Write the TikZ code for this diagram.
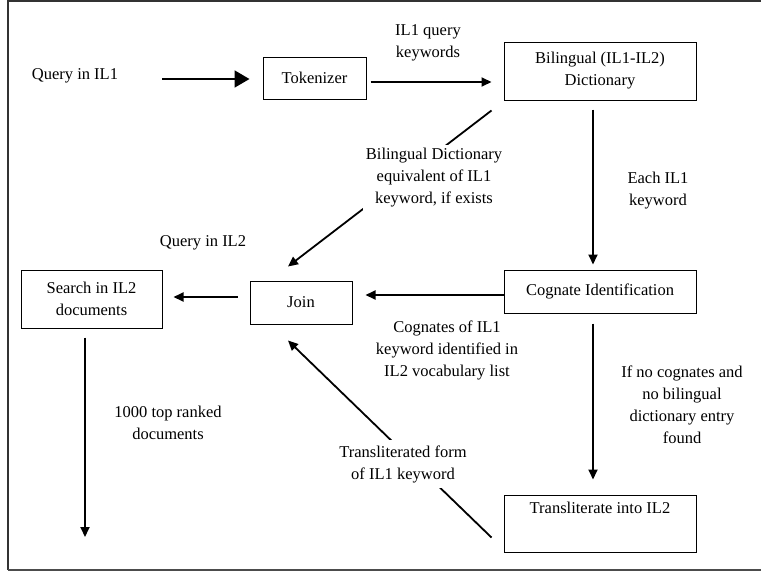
\documentclass[tikz,border=0pt]{standalone}
\usepackage{fontspec}
\setmainfont{Liberation Serif}
\usetikzlibrary{arrows.meta,calc}
\begin{document}
\begin{tikzpicture}[x=1pt,y=-1pt,
  every node/.style={font=\fontsize{16.5}{22}\selectfont, align=center, inner sep=2pt},
  box/.style={draw, line width=1pt, minimum width=#1},
  lbl/.style={fill=white, inner sep=3pt},
  arr/.style={line width=1.8pt, -{Triangle[length=10pt,width=9pt]}},
  bigarr/.style={line width=1.8pt, -{Triangle[length=15pt,width=17pt]}},
  ln/.style={line width=1.8pt}]
\useasboundingbox (0,0) rectangle (761,573);
\draw[line width=1.5pt, gray!40!black] (761,1) -- (8,1) -- (8,570);
\draw[line width=2pt, gray!60!black] (8,570) -- (761,570);

% nodes
\node (qil1) at (75,76) {Query in IL1};
\node[box=103pt, minimum height=42pt] (tok) at (314.5,78) {Tokenizer};
\node[box=192pt, minimum height=58pt] (bil) at (600,71) {Bilingual (IL1-IL2)\\Dictionary};
\node[box=192pt, minimum height=43pt] (cog) at (600,291.5) {Cognate Identification};
\node[box=102pt, minimum height=43pt] (join) at (301,302.5) {Join};
\node[box=141pt, minimum height=58pt] (search) at (91.5,299) {Search in IL2\\documents};
\node[box=192pt, minimum height=57pt] (trans) at (600,523.5) {Transliterate into IL2\\[2pt]\strut};
\coordinate (out) at (85,537);

% connectors
\draw[bigarr, shorten <=42pt, shorten >=13pt] ([yshift=-3pt]qil1.east) -- ([yshift=-3pt]qil1.east -| tok.west);
\draw[arr, shorten <=4pt, shorten >=12pt] ([yshift=-4pt]tok.east) -- ([yshift=-4pt]tok.east -| bil.west);
\node at (428,42.5) {IL1 query\\keywords};

\draw[arr, shorten <=9pt, shorten >=5pt] ([xshift=-7pt]bil.south) -- ([xshift=-7pt]bil.south |- cog.north);
\node at (658,191) {Each IL1\\keyword};

\draw[arr] ($(bil.south west)+(-12,10)$) -- ($(join.north)+(-13,-14)$);
\node[lbl] at (434,178) {Bilingual Dictionary\\equivalent of IL1\\keyword, if exists};

\draw[arr, shorten >=13pt] ([yshift=-3.5pt]cog.west) -- ([yshift=-3.5pt]cog.west -| join.east);
\node at (447,350) {Cognates of IL1\\keyword identified in\\IL2 vocabulary list};

\draw[arr, shorten <=12pt, shorten >=11pt] ([yshift=5.5pt]join.west) -- ([yshift=5.5pt]join.west -| search.east);
\node at (203,243) {Query in IL2};

\draw[arr, shorten <=9pt] ([xshift=-6.5pt]search.south) -- (out);
\node at (168,423) {1000 top ranked\\documents};

\draw[arr, shorten <=10pt, shorten >=15pt] ([xshift=-7pt]cog.south) -- ([xshift=-7pt]cog.south |- trans.north);
\node at (682,405) {If no cognates and\\no bilingual\\dictionary entry\\found};

\draw[arr] ($(trans.south west)+(-12,-15)$) -- ($(join.south)+(-13,16)$);
\node[lbl, inner sep=5pt] at (403,464) {Transliterated form\\of IL1 keyword};
\end{tikzpicture}
\end{document}
